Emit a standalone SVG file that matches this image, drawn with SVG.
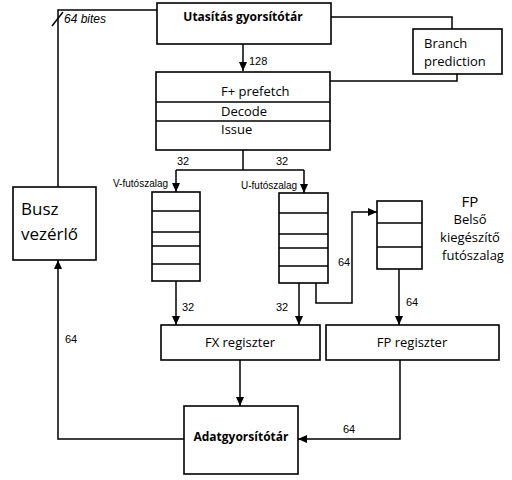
<svg xmlns="http://www.w3.org/2000/svg" width="512" height="480" viewBox="0 0 512 480">
<style>
.b{fill:#fff;stroke:#000;stroke-width:1.6}
.l{fill:none;stroke:#000;stroke-width:1.5}
.t{font-family:"Open Sans","Liberation Sans",sans-serif;font-size:13px;fill:#000}
.s{font-family:"Liberation Sans",Arial,sans-serif;font-size:11px;fill:#000}
.bd{font-family:"Open Sans","Liberation Sans",sans-serif;font-size:12px;font-weight:bold;fill:#000}
.big{font-size:17px}
.q{font-size:10px}
.fp{font-size:15px}
</style>
<defs>
<marker id="a" markerWidth="10" markerHeight="10" refX="9" refY="5" orient="auto" markerUnits="userSpaceOnUse">
<path d="M0,1 L9,5 L0,9 Z" fill="#000"/>
</marker>
</defs>
<g id="connectors">
<path class="l" d="M58,187 V10 H157"/>
<path class="l" d="M52,26 L63,12"/>
<path class="l" d="M331,17 H452 V29"/>
<path class="l" d="M330,81 H457 V74"/>
<path class="l" d="M243,44 V71" marker-end="url(#a)"/>
<path class="l" d="M243,150 V170"/>
<path class="l" d="M176,170 H304"/>
<path class="l" d="M176,170 V192" marker-end="url(#a)"/>
<path class="l" d="M304,170 V193" marker-end="url(#a)"/>
<path class="l" d="M176,281 V325" marker-end="url(#a)"/>
<path class="l" d="M299,283 V325" marker-end="url(#a)"/>
<path class="l" d="M316,283 V303 H352 V212 H377" marker-end="url(#a)"/>
<path class="l" d="M399,269 V325" marker-end="url(#a)"/>
<path class="l" d="M240,360 V406" marker-end="url(#a)"/>
<path class="l" d="M400,360 V439 H298" marker-end="url(#a)"/>
<path class="l" d="M184,439 H58 V260" marker-end="url(#a)"/>
<text class="s" x="64" y="23" font-style="italic" style="font-size:12px">64 bites</text>
<text class="s" x="249" y="65">128</text>
<text class="s" x="177" y="165">32</text>
<text class="s" x="276" y="165">32</text>
<text class="s" x="182" y="311">32</text>
<text class="s" x="276" y="311">32</text>
<text class="s" x="338" y="266">64</text>
<text class="s" x="406" y="306">64</text>
<text class="s" x="343" y="433">64</text>
<text class="s" x="65" y="343">64</text>
</g>
<g id="utasitas">
<rect class="b" x="157" y="3" width="174" height="41"/>
<text class="bd" x="243" y="21" text-anchor="middle">Utasítás gyorsítótár</text>
</g>
<g id="branch">
<rect class="b" x="413" y="29" width="89" height="45"/>
<text class="t" x="424" y="48">Branch</text>
<text class="t" x="424" y="66">prediction</text>
</g>
<g id="pipeline">
<rect class="b" x="156" y="72" width="174" height="78"/>
<line class="l" x1="156" y1="102" x2="330" y2="102"/>
<line class="l" x1="156" y1="121" x2="331" y2="121"/>
<text class="t" x="221" y="96">F+ prefetch</text>
<text class="t" x="221" y="116">Decode</text>
<text class="t" x="221" y="134">Issue</text>
</g>
<g id="busz">
<rect class="b" x="13" y="187" width="83" height="73"/>
<text class="t big" x="21" y="215">Busz</text>
<text class="t big" x="21" y="240">vezérlő</text>
</g>
<g id="vqueue">
<rect class="b" x="152" y="192" width="48" height="89"/>
<path class="l" d="M152,211 H200 M152,232 H200 M152,246 H200 M152,264 H200"/>
<text class="s q" x="113" y="187">V-futószalag</text>
</g>
<g id="uqueue">
<rect class="b" x="279" y="193" width="49" height="90"/>
<path class="l" d="M279,213 H328 M279,234 H328 M279,248 H328 M279,266 H328"/>
<text class="s q" x="241" y="189">U-futószalag</text>
</g>
<g id="fpqueue">
<rect class="b" x="377" y="201" width="45" height="68"/>
<path class="l" d="M377,223 H422 M377,247 H422"/>
<text class="t fp" x="470" y="207" text-anchor="middle">FP</text>
<text class="t" x="470" y="224" text-anchor="middle">Belső</text>
<text class="t" x="470" y="242" text-anchor="middle">kiegészítő</text>
<text class="t" x="473" y="260" text-anchor="middle">futószalag</text>
</g>
<g id="fxreg">
<rect class="b" x="161" y="325" width="159" height="35"/>
<text class="t" x="240" y="347" text-anchor="middle">FX regiszter</text>
</g>
<g id="fpreg">
<rect class="b" x="326" y="325" width="173" height="35"/>
<text class="t" x="412" y="347" text-anchor="middle">FP regiszter</text>
</g>
<g id="adat">
<rect class="b" x="184" y="406" width="114" height="68"/>
<text class="bd" x="241" y="441" text-anchor="middle">Adatgyorsítótár</text>
</g>
</svg>
